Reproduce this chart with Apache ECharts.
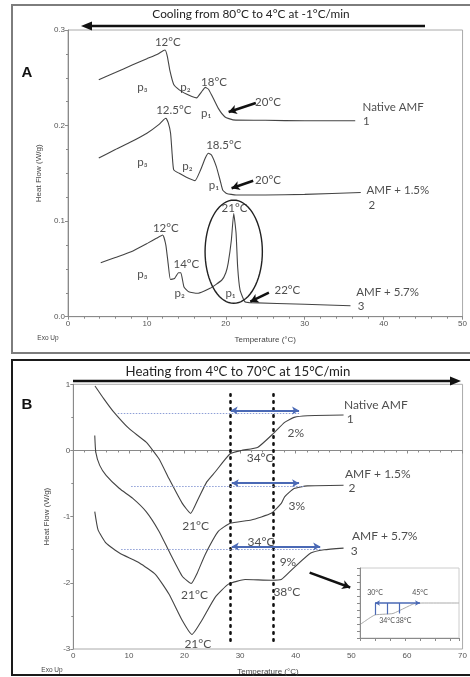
<!DOCTYPE html>
<html>
<head>
<meta charset="utf-8">
<script src="https://cdn.jsdelivr.net/npm/echarts@6/dist/echarts.min.js"></script>
<style>
  html, body { margin: 0; padding: 0; background: #fff; }
  #main { width: 470px; height: 677px; }
</style>
</head>
<body>
<div id="main"></div>
<script>
// ---- panel A: cooling curves (temperature °C, heat flow W/g) ----
const tempA1 = [3.9, 6, 8.2, 10, 11.4, 12.0, 12.3, 12.6, 12.9, 13.4, 14.1, 15.0, 15.7, 16.3, 16.9, 17.4, 17.8, 18.2, 19.05, 19.9, 20.9, 25, 30, 36.4]
const flowA1 = [0.248, 0.2555, 0.2636, 0.270, 0.275, 0.278, 0.279, 0.272, 0.258, 0.243, 0.2374, 0.233, 0.2304, 0.229, 0.235, 0.240, 0.238, 0.232, 0.218, 0.209, 0.206, 0.2055, 0.205, 0.205]

const tempA2 = [3.9, 6, 8, 10, 11.5, 12.1, 12.4, 12.7, 13.0, 13.2, 13.4, 14.1, 15, 16.1, 16.8, 17.4, 17.8, 18.2, 18.8, 19.3, 19.6, 20.1, 21.3, 25, 30, 37.1]
const flowA2 = [0.166, 0.175, 0.183, 0.192, 0.201, 0.206, 0.2077, 0.203, 0.192, 0.170, 0.1536, 0.150, 0.146, 0.1424, 0.1536, 0.166, 0.171, 0.169, 0.157, 0.142, 0.1327, 0.129, 0.1274, 0.1274, 0.128, 0.130]

const tempA3 = [4.15, 6, 8, 10.1, 11.2, 12.0, 12.4, 12.7, 12.98, 13.5, 14.0, 14.3, 14.7, 15.3, 16.4, 18.0, 19.5, 20.0, 20.3, 20.7, 21.0, 21.3, 21.5, 21.8, 22.4, 23.0, 30, 35.8]
const flowA3 = [0.0565, 0.062, 0.068, 0.077, 0.082, 0.0855, 0.075, 0.055, 0.039, 0.040, 0.046, 0.046, 0.031, 0.026, 0.0245, 0.0297, 0.0384, 0.046, 0.056, 0.080, 0.108, 0.0873, 0.052, 0.028, 0.0157, 0.0147, 0.013, 0.0115]

// ---- panel B: heating curves ----
const tempB1 = [3.9, 5.5, 7.1, 10.1, 13.1, 15.4, 17.2, 19.6, 21.1, 22.5, 24, 25.5, 28.2, 30.2, 33.2, 35.9, 38, 39.7, 42.1, 48.6]
const flowB1 = [0.975, 0.78, 0.6, 0.325, 0.125, -0.125, -0.425, -0.8, -0.95, -0.725, -0.475, -0.325, -0.05, 0.0, 0.05, 0.25, 0.425, 0.5, 0.525, 0.535]

const tempB2 = [3.86, 4.04, 4.75, 5.9, 8.3, 10.7, 13.1, 15.4, 17.2, 19.6, 21.2, 22.3, 23.7, 26.1, 28.2, 32, 35.6, 37.4, 38, 39.7, 42.1, 48.6]
const flowB2 = [0.225, -0.025, -0.225, -0.375, -0.575, -0.725, -0.925, -1.22, -1.52, -1.9, -2.01, -1.85, -1.575, -1.22, -1.1, -1.05, -0.95, -0.8, -0.7, -0.575, -0.535, -0.525]

const tempB3 = [3.86, 4.45, 5.9, 8.3, 11.9, 14.8, 17.2, 19.6, 21.35, 23.1, 25.5, 27.9, 30.9, 35.6, 37.4, 39.7, 42.7, 45.1, 48.6]
const flowB3 = [-0.925, -1.2, -1.4, -1.55, -1.70, -1.875, -2.17, -2.57, -2.78, -2.57, -2.22, -2.02, -1.95, -1.96, -1.95, -1.77, -1.55, -1.5, -1.475]

// ---- small inset in panel B ----
const tempInset = [25.3, 28, 30, 33, 36, 40, 43, 46, 58]
const flowInset = [2.0, 2.8, 3.3, 3.4, 3.5, 4.3, 4.9, 5.0, 5.0]

// ---- annotations [x, y, text] ----
const notesA = [
  [12.65, 0.287, '12°C'], [9.42, 0.240, 'p\u2083'], [14.89, 0.240, 'p\u2082'], [18.5, 0.2456, '18°C'],
  [25.34, 0.2247, '20°C'], [17.5, 0.2131, 'p\u2081'], [41.2, 0.2194, 'Native AMF'], [37.8, 0.2049, '1'],
  [13.4, 0.2163, '12.5°C'], [19.74, 0.1797, '18.5°C'], [9.42, 0.1619, 'p\u2083'], [15.14, 0.157, 'p\u2082'],
  [18.5, 0.1378, 'p\u2081'], [25.34, 0.143, '20°C'], [41.8, 0.1318, 'AMF + 1.5%'], [38.5, 0.1169, '2'],
  [21.1, 0.1137, '21°C'], [12.4, 0.0928, '12°C'], [15.0, 0.0551, '14°C'], [9.42, 0.0447, 'p\u2083'],
  [14.14, 0.0248, 'p\u2082'], [20.6, 0.0248, 'p\u2081'], [27.8, 0.0279, '22°C'],
  [40.5, 0.0259, 'AMF + 5.7%'], [37.15, 0.0112, '3']
]
const arrowsA = [
  [[23.8, 0.2236], [20.36, 0.2142]],
  [[23.47, 0.1423], [20.73, 0.1344]],
  [[25.46, 0.0251], [23.1, 0.0157]]
]
const ellipseA = [[21.0, 0.068, 3.63, 0.054]]

const notesB = [
  [54.4, 0.69, 'Native AMF'], [49.8, 0.48, '1'], [40.0, 0.255, '2%'], [33.6, -0.12, '34°C'],
  [54.75, -0.36, 'AMF + 1.5%'], [50.1, -0.57, '2'], [40.2, -0.84, '3%'], [22.0, -1.14, '21°C'],
  [33.75, -1.38, '34°C'], [56.0, -1.29, 'AMF + 5.7%'], [50.5, -1.52, '3'], [38.6, -1.68, '9%'],
  [38.4, -2.145, '38°C'], [21.8, -2.19, '21°C'], [22.4, -2.925, '21°C']
]
const onsetB = [28.3, 35.9]
const baselinesB = [[8.0, 40.6, 0.565], [10.4, 41.5, -0.545], [8.6, 44.5, -1.50]]
const spansB = [[28.3, 40.6, 0.604], [28.5, 40.6, -0.495], [28.5, 44.4, -1.45]]
const pointerB = [[42.5, -1.845], [49.8, -2.07]]

const notesInset = [[30, 6.4, '30°C'], [45, 6.4, '45°C'], [34, 2.5, '34°C'], [39.5, 2.5, '38°C']]
const stepsInset = [[30, 3.3], [34, 3.4], [38, 3.5]]

const zip = (xs, ys) => xs.map((x, i) => [x, ys[i]])

const curveStyle = { color: '#444', width: 1.1 }
const noteFont = 'Lato'

function lineSeries(xs, ys, idx) {
  return {
    type: 'line', xAxisIndex: idx, yAxisIndex: idx, data: zip(xs, ys),
    showSymbol: false, smooth: 0.15, lineStyle: curveStyle, silent: true, z: 3
  }
}

function noteSeries(notes, idx, size) {
  return {
    type: 'scatter', xAxisIndex: idx, yAxisIndex: idx, symbolSize: 0, silent: true, z: 6,
    data: notes.map(n => ({ value: [n[0], n[1]], label: { formatter: n[2] } })),
    label: { show: true, position: 'inside', color: '#222', fontSize: size, fontFamily: noteFont }
  }
}

var myChart = echarts.init(document.getElementById('main'))

const axisGray = '#8a8a8a'
function xAx(idx, min, max, interval) {
  return {
    gridIndex: idx, type: 'value', min: min, max: max, interval: interval,
    name: idx === 2 ? '' : 'Temperature (°C)', nameLocation: 'middle', nameGap: 19,
    nameTextStyle: { fontSize: 8, color: '#444', fontFamily: 'Liberation Sans' },
    axisLine: { lineStyle: { color: axisGray } },
    axisTick: { length: 3, lineStyle: { color: axisGray } },
    minorTick: { show: idx !== 2, splitNumber: 5, length: 2, lineStyle: { color: axisGray } },
    axisLabel: { show: idx !== 2, fontSize: 8, color: '#555', margin: 3, fontFamily: 'Liberation Sans' },
    splitLine: { show: false }
  }
}
function yAx(idx, min, max, interval, fmt) {
  return {
    gridIndex: idx, type: 'value', min: min, max: max, interval: interval,
    name: idx === 2 ? '' : 'Heat Flow (W/g)', nameLocation: 'middle', nameGap: 23,
    nameTextStyle: { fontSize: 8, color: '#444', fontFamily: 'Liberation Sans' },
    axisLine: { show: true, lineStyle: { color: axisGray } },
    axisTick: { show: true, length: 3, lineStyle: { color: axisGray } },
    minorTick: { show: idx !== 2, splitNumber: idx === 0 ? 4 : 2, length: 2, lineStyle: { color: axisGray } },
    axisLabel: { show: idx !== 2, fontSize: 8, color: '#555', margin: 3, formatter: fmt, fontFamily: 'Liberation Sans' },
    splitLine: { show: false }
  }
}

const arrowLine = (pairs, color, width, sym) => ({
  silent: true, symbol: sym, symbolSize: [7, 8],
  lineStyle: { color: color, width: width, type: 'solid' },
  label: { show: false },
  data: pairs.map(p => [{ coord: p[0] }, { coord: p[1] }])
})

option = {
  backgroundColor: '#fff',
  animation: false,
  grid: [
    { left: 68, top: 30, width: 402, height: 286.7, show: true, borderColor: '#aaa', borderWidth: 1 },
    { left: 73.3, top: 384.3, width: 393.4, height: 266.7, show: true, borderColor: '#aaa', borderWidth: 1 },
    { left: 360, top: 568, width: 99, height: 70, show: true, borderColor: '#ccc', borderWidth: 1 }
  ],
  xAxis: [xAx(0, 0, 50, 10), xAx(1, 0, 70, 10), xAx(2, 25, 58, 5)],
  yAxis: [
    yAx(0, 0, 0.3, 0.1, v => v.toFixed(1)),
    yAx(1, -3, 1, 1, v => String(v)),
    yAx(2, 0, 10, 1)
  ],
  graphic: [
    { type: 'rect', shape: { x: 12, y: 5, width: 470, height: 348 }, style: { fill: 'none', stroke: '#7d7d7d', lineWidth: 2 } },
    { type: 'rect', shape: { x: 12, y: 360, width: 470, height: 315 }, style: { fill: 'none', stroke: '#1a1a1a', lineWidth: 2 } },
    { type: 'text', x: 251, y: 14, style: { text: 'Cooling from 80°C to 4°C at -1°C/min', fill: '#222', font: '11.8px Lato', textAlign: 'center', textVerticalAlign: 'middle' } },
    { type: 'line', shape: { x1: 425, y1: 26, x2: 88, y2: 26 }, style: { stroke: '#111', lineWidth: 2.5 } },
    { type: 'polygon', shape: { points: [[81, 26], [92, 21.5], [92, 30.5]] }, style: { fill: '#111' } },
    { type: 'text', x: 238, y: 372, style: { text: 'Heating from 4°C to 70°C at 15°C/min', fill: '#222', font: '13.2px Lato', textAlign: 'center', textVerticalAlign: 'middle' } },
    { type: 'line', shape: { x1: 73, y1: 381, x2: 454, y2: 381 }, style: { stroke: '#111', lineWidth: 2.5 } },
    { type: 'polygon', shape: { points: [[461, 381], [450, 376.5], [450, 385.5]] }, style: { fill: '#111' } },
    { type: 'text', x: 27, y: 73, style: { text: 'A', fill: '#111', font: 'bold 15px Liberation Sans', textAlign: 'center', textVerticalAlign: 'middle' } },
    { type: 'text', x: 27, y: 405, style: { text: 'B', fill: '#111', font: 'bold 15px Liberation Sans', textAlign: 'center', textVerticalAlign: 'middle' } },
    { type: 'text', x: 48, y: 338, style: { text: 'Exo Up', fill: '#444', font: '6.5px Liberation Sans', textAlign: 'center', textVerticalAlign: 'middle' } },
    { type: 'text', x: 52, y: 670, style: { text: 'Exo Up', fill: '#444', font: '6.5px Liberation Sans', textAlign: 'center', textVerticalAlign: 'middle' } }
  ],
  series: [
    Object.assign(lineSeries(tempA1, flowA1, 0), { markLine: arrowLine(arrowsA, '#111', 2.5, ['none', 'arrow']) }),
    lineSeries(tempA2, flowA2, 0),
    lineSeries(tempA3, flowA3, 0),
    {
      type: 'custom', xAxisIndex: 0, yAxisIndex: 0, data: ellipseA, silent: true, z: 4,
      renderItem: function (params, api) {
        const c = api.coord([api.value(0), api.value(1)])
        const s = api.size([api.value(2), api.value(3)])
        const pts = []
        for (let i = 0; i < 72; i++) {
          const a = i / 72 * Math.PI * 2
          pts.push([c[0] + s[0] * Math.cos(a), c[1] + s[1] * Math.sin(a)])
        }
        return { type: 'polygon', shape: { points: pts }, style: { fill: 'none', stroke: '#222', lineWidth: 1.4 } }
      }
    },
    noteSeries(notesA, 0, 11.5),

    Object.assign(lineSeries(tempB1, flowB1, 1), {
      markLine: {
        silent: true, symbol: 'none',
        lineStyle: { color: '#111', width: 2.6, type: [1.5, 5.5], cap: 'round' },
        label: { show: false },
        data: onsetB.map(x => [{ coord: [x, 0.85] }, { coord: [x, -2.9] }])
      }
    }),
    Object.assign(lineSeries(tempB2, flowB2, 1), {
      markLine: {
        silent: true, symbol: 'none',
        lineStyle: { color: '#8d9ed6', width: 1.2, type: [1.5, 1.5] },
        label: { show: false },
        data: baselinesB.map(b => [{ coord: [b[0], b[2]] }, { coord: [b[1], b[2]] }])
      }
    }),
    Object.assign(lineSeries(tempB3, flowB3, 1), {
      markLine: {
        silent: true, symbol: ['arrow', 'arrow'], symbolSize: [6, 7],
        lineStyle: { color: '#4a69b5', width: 1.8, type: 'solid' },
        label: { show: false },
        data: spansB.map(b => [{ coord: [b[0], b[2]] }, { coord: [b[1], b[2]] }])
      }
    }),
    {
      type: 'line', xAxisIndex: 1, yAxisIndex: 1, data: [], silent: true,
      markLine: arrowLine([pointerB], '#111', 2.5, ['none', 'arrow'])
    },
    noteSeries(notesB, 1, 12),

    Object.assign(lineSeries(tempInset, flowInset, 2), {
      lineStyle: { color: '#aaa', width: 1 },
      markLine: {
        silent: true, symbol: 'none',
        lineStyle: { color: '#4a69b5', width: 1.2, type: 'solid' },
        label: { show: false },
        data: stepsInset.map(s => [{ coord: [s[0], 5] }, { coord: [s[0], s[1]] }])
      }
    }),
    {
      type: 'line', xAxisIndex: 2, yAxisIndex: 2, data: [], silent: true,
      markLine: {
        silent: true, symbol: ['arrow', 'arrow'], symbolSize: [4, 5],
        lineStyle: { color: '#4a69b5', width: 1.6, type: 'solid' },
        label: { show: false },
        data: [[{ coord: [30, 5] }, { coord: [45, 5] }]]
      }
    },
    noteSeries(notesInset, 2, 7)
  ]
}

myChart.setOption(option)
</script>
</body>
</html>
